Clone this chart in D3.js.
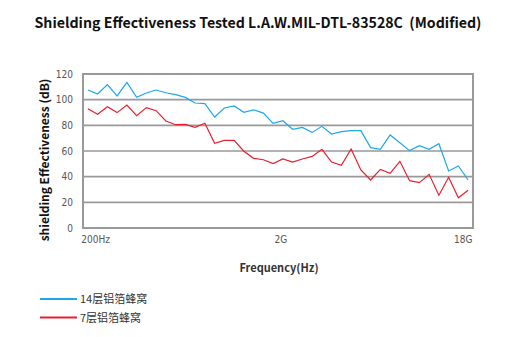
<!DOCTYPE html>
<html lang="zh">
<head>
    <meta charset="UTF-8">
    <title>Shielding Effectiveness</title>
    <style>
        body { margin: 0; background: #fff; }
        svg text { font-family: "Noto Sans CJK SC", "Noto Sans", sans-serif; }
    </style>
</head>
<body>
<div id="chart"></div>
<script src="https://cdn.jsdelivr.net/npm/d3@7"></script>
<script>
    var width = 519, height = 337;

    // 40 measurement points, 200Hz .. 18G
    var layers14 = [107.5, 104.4, 111.7, 102.9, 113.5, 101.8, 105.2, 107.5, 105.4, 103.9,
        101.8, 97.4, 96.9, 86.5, 93.5, 95.1, 90.1, 92.1, 89.5, 81.5,
        83.6, 76.9, 78.4, 74.5, 79.2, 73.2, 75.1, 75.8, 75.8, 62.6,
        61.3, 72.5, 66.5, 60.3, 64.2, 61.3, 65.7, 44.4, 48.3, 37.4];
    var layers7 = [93.0, 88.6, 94.5, 89.9, 95.8, 87.5, 93.8, 91.4, 83.4, 80.5,
        80.8, 78.4, 81.6, 66.0, 68.3, 68.3, 59.8, 54.3, 53.2, 50.2,
        53.8, 51.4, 53.8, 55.8, 61.3, 51.4, 48.8, 61.6, 45.2, 37.4,
        45.7, 42.6, 52.0, 36.9, 35.3, 41.8, 25.5, 39.5, 23.6, 29.4];
    var yTicks = [0, 20, 40, 60, 80, 100, 120];
    // label text and the point index it sits under
    var xLabels = ["200Hz", "2G", "18G"];
    var xLabelAt = [0.8, 19.8, 38.5];
    var seriesNames = ["14层铝箔蜂窝", "7层铝箔蜂窝"];
    var seriesColors = ["#1da8ec", "#e8202e"];

    var plot = {left: 83, right: 473, top: 74, bottom: 228};

    var svg = d3.select("#chart").append("svg")
        .attr("width", width).attr("height", height);

    var x = d3.scaleBand()
        .domain(d3.range(layers14.length))
        .range([plot.left, plot.right]);
    var xPos = function (i) { return x(0) + x.bandwidth() * (i + 0.5); };
    var y = d3.scaleLinear().domain([0, 120]).range([plot.bottom, plot.top]);

    // title
    svg.append("text")
        .attr("x", 258).attr("y", 28)
        .attr("text-anchor", "middle")
        .style("white-space", "pre")
        .style("font-size", "14.2px").style("font-weight", "bold").style("fill", "#111")
        .text("Shielding Effectiveness Tested L.A.W.MIL-DTL-83528C  (Modified)");

    // grid lines
    svg.append("g").selectAll("line")
        .data(yTicks)
        .enter().append("line")
        .attr("x1", plot.left).attr("x2", plot.right)
        .attr("y1", function (d) { return y(d); })
        .attr("y2", function (d) { return y(d); })
        .style("stroke", "#999").style("stroke-width", 1.6);

    // frame
    svg.append("rect")
        .attr("x", plot.left).attr("y", plot.top)
        .attr("width", plot.right - plot.left).attr("height", plot.bottom - plot.top)
        .style("fill", "none").style("stroke", "#999").style("stroke-width", 2);

    // y axis
    var yAxis = svg.append("g")
        .attr("transform", "translate(" + plot.left + ",0)")
        .call(d3.axisLeft(y).tickValues(yTicks).tickSize(0).tickPadding(10));
    yAxis.select(".domain").remove();
    yAxis.selectAll("text")
        .style("font-size", "10px").style("fill", "#555")
        .style("font-family", "'DejaVu Sans Condensed', 'Noto Sans', sans-serif");

    // x labels
    svg.append("g").selectAll("text")
        .data(xLabels)
        .enter().append("text")
        .attr("x", function (d, i) { return xPos(xLabelAt[i]); })
        .attr("y", plot.bottom + 15)
        .attr("text-anchor", "middle")
        .style("font-size", "10px").style("fill", "#555")
        .style("font-family", "'DejaVu Sans Condensed', 'Noto Sans', sans-serif")
        .text(function (d) { return d; });

    // axis titles
    svg.append("text")
        .attr("transform", "translate(49,160)rotate(-90)")
        .attr("text-anchor", "middle")
        .style("font-size", "12px").style("font-weight", "bold").style("fill", "#111")
        .text("shielding Effectiveness (dB)");
    svg.append("text")
        .attr("x", 279).attr("y", 272)
        .attr("text-anchor", "middle")
        .style("font-size", "11px").style("font-weight", "bold").style("fill", "#333")
        .text("Frequency(Hz)");

    // series
    var line = d3.line()
        .x(function (d, i) { return xPos(i); })
        .y(function (d) { return y(d); });
    [layers14, layers7].forEach(function (s, k) {
        svg.append("path")
            .datum(s)
            .attr("d", line)
            .style("fill", "none")
            .style("stroke", seriesColors[k])
            .style("stroke-width", 1.2);
    });

    // legend
    var legend = svg.append("g").selectAll("g")
        .data(seriesNames)
        .enter().append("g")
        .attr("transform", function (d, i) { return "translate(40," + (299 + i * 18.5) + ")"; });
    legend.append("line")
        .attr("x1", 0).attr("x2", 37)
        .style("stroke", function (d, i) { return seriesColors[i]; })
        .style("stroke-width", 2);
    legend.append("text")
        .attr("x", 40).attr("y", 4)
        .style("font-size", "11px").style("fill", "#333")
        .text(function (d) { return d; });
</script>
</body>
</html>
